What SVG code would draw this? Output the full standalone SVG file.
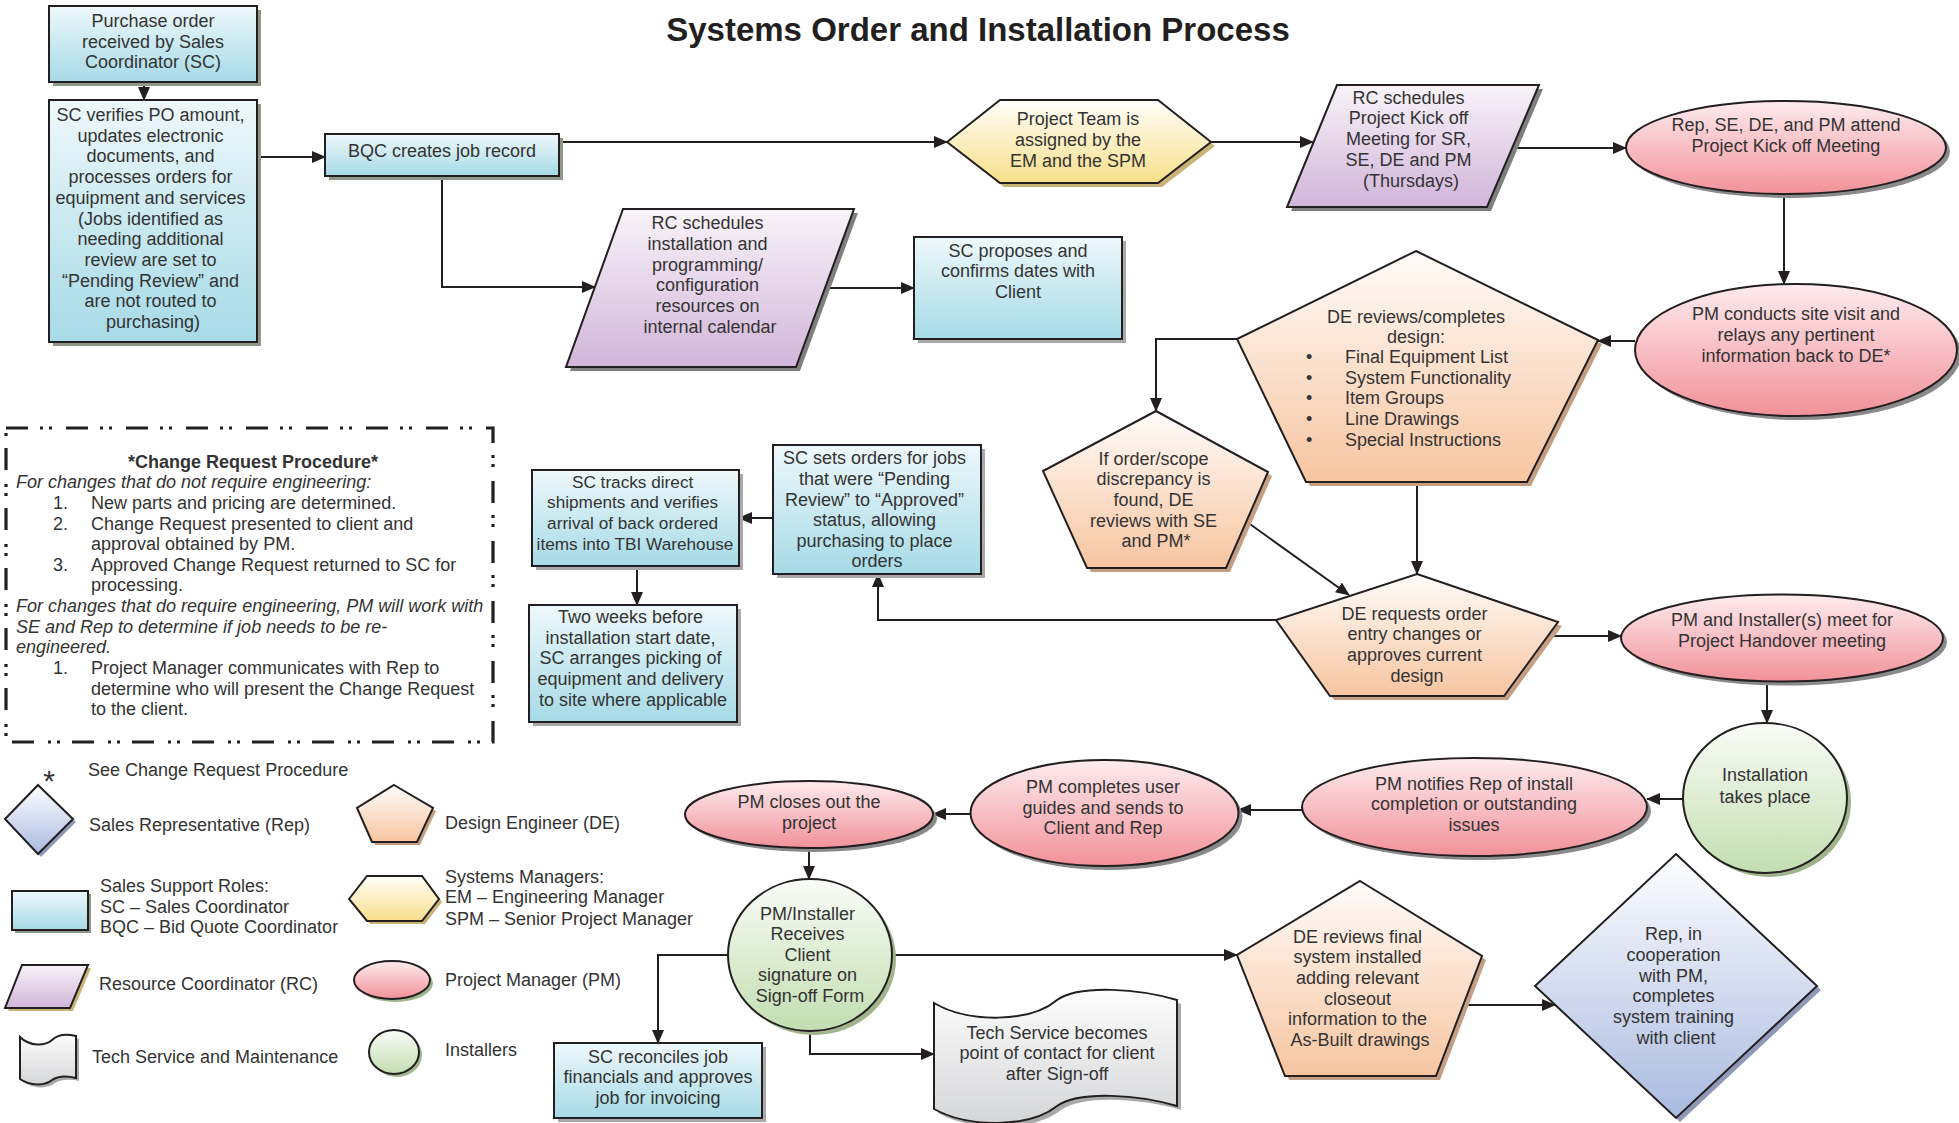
<svg xmlns="http://www.w3.org/2000/svg" width="1959" height="1123" viewBox="0 0 1959 1123">
<style>
  .t { font-family: "Liberation Sans", Arial, sans-serif; font-size: 18px; fill: #333; text-anchor: middle; }
  .l { font-family: "Liberation Sans", Arial, sans-serif; font-size: 18px; fill: #333; }
  .it { font-style: italic; }
  .title { font-family: "Liberation Sans", Arial, sans-serif; font-size: 33px; font-weight: bold; fill: #231f20; text-anchor: middle; }
  .shape { stroke: #231f20; stroke-width: 2; stroke-linejoin: miter; }
  .f-blue { fill: url(#gBlue); } .sh-blue { fill: #8e9888; }
  .f-purple { fill: url(#gPurple); } .sh-purple { fill: #7f7f7f; }
  .f-yellow { fill: url(#gYellow); } .sh-yellow { fill: #c9b276; }
  .f-orange { fill: url(#gOrange); } .sh-orange { fill: #c49f84; }
  .f-pink { fill: url(#gPink); } .sh-pink { fill: #8a8a8a; }
  .f-green { fill: url(#gGreen); } .sh-green { fill: #9fb48b; }
  .f-dia { fill: url(#gDia); } .sh-dia { fill: #8e99b8; }
  .f-gray { fill: url(#gGray); } .sh-gray { fill: #a9a9a9; }
  .conn { fill: none; stroke: #231f20; stroke-width: 2; marker-end: url(#arrow); }
</style>
<defs>
  <linearGradient id="gBlue" x1="0" y1="0" x2="0" y2="1"><stop offset="0" stop-color="#eef8fb"/><stop offset="1" stop-color="#a6dae6"/></linearGradient>
  <linearGradient id="gPurple" x1="0" y1="0" x2="0" y2="1"><stop offset="0" stop-color="#f8f3f9"/><stop offset="1" stop-color="#d1b5d9"/></linearGradient>
  <linearGradient id="gYellow" x1="0" y1="0" x2="0" y2="1"><stop offset="0" stop-color="#fffefa"/><stop offset="1" stop-color="#f8df8a"/></linearGradient>
  <linearGradient id="gOrange" x1="0" y1="0" x2="0" y2="1"><stop offset="0" stop-color="#fffcfa"/><stop offset="1" stop-color="#f7c5a0"/></linearGradient>
  <linearGradient id="gPink" x1="0" y1="0" x2="0" y2="1"><stop offset="0" stop-color="#fdecef"/><stop offset="1" stop-color="#f29199"/></linearGradient>
  <linearGradient id="gGreen" x1="0" y1="0" x2="0" y2="1"><stop offset="0" stop-color="#fafcf8"/><stop offset="1" stop-color="#c2deb0"/></linearGradient>
  <linearGradient id="gDia" x1="0" y1="0" x2="0" y2="1"><stop offset="0" stop-color="#fefeff"/><stop offset="1" stop-color="#a9bae0"/></linearGradient>
  <linearGradient id="gGray" x1="0" y1="0" x2="0" y2="1"><stop offset="0" stop-color="#fdfdfd"/><stop offset="1" stop-color="#d5d6d8"/></linearGradient>
  <marker id="arrow" markerUnits="userSpaceOnUse" markerWidth="14" markerHeight="12" refX="13" refY="6" orient="auto">
    <path d="M0,0 L14,6 L0,12 z" fill="#231f20"/>
  </marker>

  <!-- node outlines -->
  <rect id="s-po" x="49" y="6" width="208" height="76"/>
  <rect id="s-verify" x="49" y="100" width="208" height="242"/>
  <rect id="s-bqc" x="325" y="134" width="234" height="42"/>
  <polygon id="s-rcinst" points="623,209 854,209 796,367 566,367"/>
  <rect id="s-propose" x="914" y="237" width="208" height="102"/>
  <polygon id="s-team" points="947,142 1000,100 1158,100 1211,142 1158,183 1000,183"/>
  <polygon id="s-rckick" points="1337,85 1539,85 1487,207 1287,207"/>
  <ellipse id="s-kickoff" cx="1786" cy="147.5" rx="160" ry="46.5"/>
  <ellipse id="s-site" cx="1796" cy="350" rx="161" ry="66"/>
  <polygon id="s-design" points="1416,251 1598,340 1527,482 1306,482 1237,339"/>
  <polygon id="s-discr" points="1156,411 1268,472 1226,568 1087,568 1043,471"/>
  <polygon id="s-dereq" points="1417,574 1558,622 1504,696 1330,696 1276,620"/>
  <ellipse id="s-handover" cx="1782" cy="638" rx="161" ry="43.5"/>
  <ellipse id="s-install" cx="1765" cy="798" rx="82" ry="75"/>
  <ellipse id="s-notify" cx="1474.5" cy="807" rx="172.5" ry="49"/>
  <ellipse id="s-guides" cx="1104.5" cy="813" rx="134" ry="53"/>
  <ellipse id="s-close" cx="809" cy="814.5" rx="124" ry="33.5"/>
  <ellipse id="s-signoff" cx="810" cy="955" rx="82" ry="76"/>
  <rect id="s-reconcile" x="554" y="1043" width="208" height="75"/>
  <path id="s-tech" d="M934,1003 C968,1023 1030,1023 1057,1000 C1080,984 1140,989 1177,1000 L1177,1106 C1140,1095 1080,1090 1057,1106 C1030,1128 968,1128 934,1109 Z"/>
  <polygon id="s-asbuilt" points="1360,881 1482,956 1436,1076 1285,1076 1237,955"/>
  <polygon id="s-train" points="1676,854 1817,986 1676,1118 1535,986"/>
  <rect id="s-sets" x="773" y="445" width="208" height="129"/>
  <rect id="s-tracks" x="532" y="470" width="207" height="96"/>
  <rect id="s-twoweeks" x="529" y="605" width="208" height="117"/>

  <!-- legend symbols -->
  <polygon id="k-dia" points="38,785 73,819 38,854 5,819"/>
  <rect id="k-rect" x="12" y="891" width="76" height="39"/>
  <polygon id="k-para" points="22,965 88,965 70,1008 5,1008"/>
  <path id="k-tape" d="M20,1037 C30,1047 45,1046 52,1040 C58,1034 68,1034 76,1036 L76,1078 C68,1076 58,1076 52,1080 C45,1086 30,1086 20,1079 Z"/>
  <polygon id="k-pent" points="394,785 433,808 417,842 372,842 357,808"/>
  <polygon id="k-hex" points="349,899 367,876 422,876 439,899 422,921 367,921"/>
  <ellipse id="k-ell" cx="392" cy="980" rx="38" ry="19"/>
  <ellipse id="k-circ" cx="394" cy="1052" rx="25" ry="22"/>
</defs>

<rect x="0" y="0" width="1959" height="1123" fill="#ffffff"/>

<text class="title" x="978" y="41">Systems Order and Installation Process</text>

<!-- connectors -->
<g id="connectors">
  <path class="conn" d="M144,82 V100"/>
  <path class="conn" d="M257,157 H325"/>
  <path class="conn" d="M559,142 H947"/>
  <path class="conn" d="M442,176 V287 H595"/>
  <path class="conn" d="M825,288 H914"/>
  <path class="conn" d="M1211,142 H1313"/>
  <path class="conn" d="M1512,148 H1626"/>
  <path class="conn" d="M1784,194 V284"/>
  <path class="conn" d="M1635,341 H1598"/>
  <path class="conn" d="M1237,339 H1156 V411"/>
  <path class="conn" d="M1247,522 L1349,595"/>
  <path class="conn" d="M1417,482 V574"/>
  <path class="conn" d="M1276,620 H878 V574"/>
  <path class="conn" d="M1549,636 H1621"/>
  <path class="conn" d="M1767,682 V723"/>
  <path class="conn" d="M1683,799 H1647"/>
  <path class="conn" d="M1302,810 H1238"/>
  <path class="conn" d="M971,814 H933"/>
  <path class="conn" d="M809,848 V879"/>
  <path class="conn" d="M728,955 H658 V1043"/>
  <path class="conn" d="M892,955 H1237"/>
  <path class="conn" d="M810,1031 V1054 H934"/>
  <path class="conn" d="M1463,1005 H1555"/>
  <path class="conn" d="M773,518 H739"/>
  <path class="conn" d="M637,566 V605"/>
</g>

<!-- process nodes -->
<g id="n-po">
  <use href="#s-po" class="sh-blue" transform="translate(4,4)"/>
  <use href="#s-po" class="shape f-blue"/>
  <text class="t"><tspan x="153" y="27">Purchase order</tspan><tspan x="153" y="48">received by Sales</tspan><tspan x="153" y="68">Coordinator (SC)</tspan></text>
</g>
<g id="n-verify">
  <use href="#s-verify" class="sh-blue" transform="translate(4,4)"/>
  <use href="#s-verify" class="shape f-blue"/>
  <text class="t">
    <tspan x="153" y="121">SC verifies PO amount,</tspan>
    <tspan x="153" y="141.7">updates electronic</tspan>
    <tspan x="153" y="162.4">documents, and</tspan>
    <tspan x="153" y="183.1">processes orders for</tspan>
    <tspan x="153" y="203.8">equipment and services</tspan>
    <tspan x="153" y="224.5">(Jobs identified as</tspan>
    <tspan x="153" y="245.2">needing additional</tspan>
    <tspan x="153" y="265.9">review are set to</tspan>
    <tspan x="153" y="286.6">“Pending Review” and</tspan>
    <tspan x="153" y="307.3">are not routed to</tspan>
    <tspan x="153" y="328">purchasing)</tspan>
  </text>
</g>
<g id="n-bqc">
  <use href="#s-bqc" class="sh-blue" transform="translate(4,4)"/>
  <use href="#s-bqc" class="shape f-blue"/>
  <text class="t" x="442" y="157">BQC creates job record</text>
</g>
<g id="n-rc-install">
  <use href="#s-rcinst" class="sh-purple" transform="translate(4,4)"/>
  <use href="#s-rcinst" class="shape f-purple"/>
  <text class="t">
    <tspan x="710" y="229">RC schedules</tspan>
    <tspan x="710" y="250">installation and</tspan>
    <tspan x="710" y="271">programming/</tspan>
    <tspan x="710" y="291">configuration</tspan>
    <tspan x="710" y="312">resources on</tspan>
    <tspan x="710" y="333">internal calendar</tspan>
  </text>
</g>
<g id="n-propose">
  <use href="#s-propose" class="sh-gray" transform="translate(4,4)"/>
  <use href="#s-propose" class="shape f-blue"/>
  <text class="t"><tspan x="1018" y="257">SC proposes and</tspan><tspan x="1018" y="277">confirms dates with</tspan><tspan x="1018" y="298">Client</tspan></text>
</g>
<g id="n-team">
  <use href="#s-team" class="sh-yellow" transform="translate(4,4)"/>
  <use href="#s-team" class="shape f-yellow"/>
  <text class="t"><tspan x="1078" y="125">Project Team is</tspan><tspan x="1078" y="146">assigned by the</tspan><tspan x="1078" y="167">EM and the SPM</tspan></text>
</g>
<g id="n-rc-kickoff">
  <use href="#s-rckick" class="sh-purple" transform="translate(4,4)"/>
  <use href="#s-rckick" class="shape f-purple"/>
  <text class="t">
    <tspan x="1411" y="104">RC schedules</tspan>
    <tspan x="1411" y="124">Project Kick off</tspan>
    <tspan x="1411" y="145">Meeting for SR,</tspan>
    <tspan x="1411" y="166">SE, DE and PM</tspan>
    <tspan x="1411" y="187">(Thursdays)</tspan>
  </text>
</g>
<g id="n-kickoff">
  <use href="#s-kickoff" class="sh-pink" transform="translate(4,4)"/>
  <use href="#s-kickoff" class="shape f-pink"/>
  <text class="t"><tspan x="1786" y="131">Rep, SE, DE, and PM attend</tspan><tspan x="1786" y="152">Project Kick off Meeting</tspan></text>
</g>
<g id="n-site">
  <use href="#s-site" class="sh-pink" transform="translate(4,4)"/>
  <use href="#s-site" class="shape f-pink"/>
  <text class="t"><tspan x="1796" y="320">PM conducts site visit and</tspan><tspan x="1796" y="341">relays any pertinent</tspan><tspan x="1796" y="362">information back to DE*</tspan></text>
</g>
<g id="n-design">
  <use href="#s-design" class="sh-orange" transform="translate(4,4)"/>
  <use href="#s-design" class="shape f-orange"/>
  <text class="t"><tspan x="1416" y="323">DE reviews/completes</tspan><tspan x="1416" y="343">design:</tspan></text>
  <text class="l">
    <tspan x="1306" y="363">•</tspan><tspan x="1345" y="363">Final Equipment List</tspan>
    <tspan x="1306" y="384">•</tspan><tspan x="1345" y="384">System Functionality</tspan>
    <tspan x="1306" y="404">•</tspan><tspan x="1345" y="404">Item Groups</tspan>
    <tspan x="1306" y="425">•</tspan><tspan x="1345" y="425">Line Drawings</tspan>
    <tspan x="1306" y="446">•</tspan><tspan x="1345" y="446">Special Instructions</tspan>
  </text>
</g>
<g id="n-discrepancy">
  <use href="#s-discr" class="sh-orange" transform="translate(4,4)"/>
  <use href="#s-discr" class="shape f-orange"/>
  <text class="t">
    <tspan x="1156" y="465">If order/scope</tspan>
    <tspan x="1156" y="485">discrepancy is</tspan>
    <tspan x="1156" y="506">found, DE</tspan>
    <tspan x="1156" y="527">reviews with SE</tspan>
    <tspan x="1156" y="547">and PM*</tspan>
  </text>
</g>
<g id="n-de-request">
  <use href="#s-dereq" class="sh-orange" transform="translate(4,4)"/>
  <use href="#s-dereq" class="shape f-orange"/>
  <text class="t">
    <tspan x="1417" y="620">DE requests order</tspan>
    <tspan x="1417" y="640">entry changes or</tspan>
    <tspan x="1417" y="661">approves current</tspan>
    <tspan x="1417" y="682">design</tspan>
  </text>
</g>
<g id="n-handover">
  <use href="#s-handover" class="sh-pink" transform="translate(4,4)"/>
  <use href="#s-handover" class="shape f-pink"/>
  <text class="t"><tspan x="1782" y="626">PM and Installer(s) meet for</tspan><tspan x="1782" y="647">Project Handover meeting</tspan></text>
</g>
<g id="n-install">
  <use href="#s-install" class="sh-green" transform="translate(4,4)"/>
  <use href="#s-install" class="shape f-green"/>
  <text class="t"><tspan x="1765" y="781">Installation</tspan><tspan x="1765" y="803">takes place</tspan></text>
</g>
<g id="n-notify">
  <use href="#s-notify" class="sh-pink" transform="translate(4,4)"/>
  <use href="#s-notify" class="shape f-pink"/>
  <text class="t"><tspan x="1474" y="790">PM notifies Rep of install</tspan><tspan x="1474" y="810">completion or outstanding</tspan><tspan x="1474" y="831">issues</tspan></text>
</g>
<g id="n-guides">
  <use href="#s-guides" class="sh-pink" transform="translate(4,4)"/>
  <use href="#s-guides" class="shape f-pink"/>
  <text class="t"><tspan x="1103" y="793">PM completes user</tspan><tspan x="1103" y="814">guides and sends to</tspan><tspan x="1103" y="834">Client and Rep</tspan></text>
</g>
<g id="n-closeout">
  <use href="#s-close" class="sh-pink" transform="translate(4,4)"/>
  <use href="#s-close" class="shape f-pink"/>
  <text class="t"><tspan x="809" y="808">PM closes out the</tspan><tspan x="809" y="829">project</tspan></text>
</g>
<g id="n-signoff">
  <use href="#s-signoff" class="sh-green" transform="translate(4,4)"/>
  <use href="#s-signoff" class="shape f-green"/>
  <text class="t">
    <tspan x="810" y="920">PM/Installer</tspan>
    <tspan x="810" y="940">Receives</tspan>
    <tspan x="810" y="961">Client</tspan>
    <tspan x="810" y="981">signature on</tspan>
    <tspan x="810" y="1002">Sign-off Form</tspan>
  </text>
</g>
<g id="n-reconcile">
  <use href="#s-reconcile" class="sh-gray" transform="translate(4,4)"/>
  <use href="#s-reconcile" class="shape f-blue"/>
  <text class="t"><tspan x="658" y="1063">SC reconciles job</tspan><tspan x="658" y="1083">financials and approves</tspan><tspan x="658" y="1104">job for invoicing</tspan></text>
</g>
<g id="n-tech">
  <use href="#s-tech" class="sh-gray" transform="translate(4,4)"/>
  <use href="#s-tech" class="shape f-gray"/>
  <text class="t"><tspan x="1057" y="1039">Tech Service becomes</tspan><tspan x="1057" y="1059">point of contact for client</tspan><tspan x="1057" y="1080">after Sign-off</tspan></text>
</g>
<g id="n-asbuilt">
  <use href="#s-asbuilt" class="sh-orange" transform="translate(4,4)"/>
  <use href="#s-asbuilt" class="shape f-orange"/>
  <text class="t">
    <tspan x="1360" y="943">DE reviews final</tspan>
    <tspan x="1360" y="963">system installed</tspan>
    <tspan x="1360" y="984">adding relevant</tspan>
    <tspan x="1360" y="1005">closeout</tspan>
    <tspan x="1360" y="1025">information to the</tspan>
    <tspan x="1360" y="1046">As-Built drawings</tspan>
  </text>
</g>
<g id="n-training">
  <use href="#s-train" class="sh-dia" transform="translate(4,4)"/>
  <use href="#s-train" class="shape f-dia"/>
  <text class="t">
    <tspan x="1676" y="940">Rep, in</tspan>
    <tspan x="1676" y="961">cooperation</tspan>
    <tspan x="1676" y="982">with PM,</tspan>
    <tspan x="1676" y="1002">completes</tspan>
    <tspan x="1676" y="1023">system training</tspan>
    <tspan x="1676" y="1044">with client</tspan>
  </text>
</g>
<g id="n-sets">
  <use href="#s-sets" class="sh-gray" transform="translate(4,4)"/>
  <use href="#s-sets" class="shape f-blue"/>
  <text class="t">
    <tspan x="877" y="464">SC sets orders for jobs</tspan>
    <tspan x="877" y="485">that were “Pending</tspan>
    <tspan x="877" y="506">Review” to “Approved”</tspan>
    <tspan x="877" y="526">status, allowing</tspan>
    <tspan x="877" y="547">purchasing to place</tspan>
    <tspan x="877" y="567">orders</tspan>
  </text>
</g>
<g id="n-tracks">
  <use href="#s-tracks" class="sh-gray" transform="translate(4,4)"/>
  <use href="#s-tracks" class="shape f-blue"/>
  <text class="t" style="font-size:17.2px">
    <tspan x="635" y="488">SC tracks direct</tspan>
    <tspan x="635" y="508">shipments and verifies</tspan>
    <tspan x="635" y="529">arrival of back ordered</tspan>
    <tspan x="635" y="550">items into TBI Warehouse</tspan>
  </text>
</g>
<g id="n-twoweeks">
  <use href="#s-twoweeks" class="sh-gray" transform="translate(4,4)"/>
  <use href="#s-twoweeks" class="shape f-blue"/>
  <text class="t">
    <tspan x="633" y="623">Two weeks before</tspan>
    <tspan x="633" y="644">installation start date,</tspan>
    <tspan x="633" y="664">SC arranges picking of</tspan>
    <tspan x="633" y="685">equipment and delivery</tspan>
    <tspan x="633" y="706">to site where applicable</tspan>
  </text>
</g>

<!-- change request procedure note -->
<g id="change-request">
  <rect x="6" y="428" width="487" height="314" fill="none" stroke="#231f20" stroke-width="3.2" stroke-dasharray="22 12 3 6 3 14"/>
  <text class="t" x="253" y="468" style="font-weight:bold">*Change Request Procedure*</text>
  <text class="l">
    <tspan class="it" x="16" y="488">For changes that do not require engineering:</tspan>
    <tspan x="53" y="509">1.</tspan><tspan x="91" y="509">New parts and pricing are determined.</tspan>
    <tspan x="53" y="530">2.</tspan><tspan x="91" y="530">Change Request presented to client and</tspan>
    <tspan x="91" y="550">approval obtained by PM.</tspan>
    <tspan x="53" y="571">3.</tspan><tspan x="91" y="571">Approved Change Request returned to SC for</tspan>
    <tspan x="91" y="591">processing.</tspan>
    <tspan class="it" x="16" y="612">For changes that do require engineering, PM will work with</tspan>
    <tspan class="it" x="16" y="633">SE and Rep to determine if job needs to be re-</tspan>
    <tspan class="it" x="16" y="653">engineered.</tspan>
    <tspan x="53" y="674">1.</tspan><tspan x="91" y="674">Project Manager communicates with Rep to</tspan>
    <tspan x="91" y="695">determine who will present the Change Request</tspan>
    <tspan x="91" y="715">to the client.</tspan>
  </text>
</g>

<!-- legend -->
<g id="legend">
  <text class="t" x="49" y="791" style="font-size:30px">*</text>
  <text class="l" x="88" y="776">See Change Request Procedure</text>

  <use href="#k-dia" class="sh-dia" transform="translate(3,3)"/>
  <use href="#k-dia" class="shape f-dia"/>
  <text class="l" x="89" y="831">Sales Representative (Rep)</text>

  <use href="#k-rect" class="sh-blue" transform="translate(3,3)"/>
  <use href="#k-rect" class="shape f-blue"/>
  <text class="l"><tspan x="100" y="892">Sales Support Roles:</tspan><tspan x="100" y="913">SC – Sales Coordinator</tspan><tspan x="100" y="933">BQC – Bid Quote Coordinator</tspan></text>

  <use href="#k-para" class="sh-yellow" transform="translate(3,3)"/>
  <use href="#k-para" class="shape f-purple"/>
  <text class="l" x="99" y="990">Resource Coordinator (RC)</text>

  <use href="#k-tape" class="sh-gray" transform="translate(3,3)"/>
  <use href="#k-tape" class="shape f-gray"/>
  <text class="l" x="92" y="1063">Tech Service and Maintenance</text>

  <use href="#k-pent" class="sh-orange" transform="translate(3,3)"/>
  <use href="#k-pent" class="shape f-orange"/>
  <text class="l" x="445" y="829">Design Engineer (DE)</text>

  <use href="#k-hex" class="sh-yellow" transform="translate(3,3)"/>
  <use href="#k-hex" class="shape f-yellow"/>
  <text class="l"><tspan x="445" y="883">Systems Managers:</tspan><tspan x="445" y="903">EM – Engineering Manager</tspan><tspan x="445" y="925">SPM – Senior Project Manager</tspan></text>

  <use href="#k-ell" class="sh-green" transform="translate(3,3)"/>
  <use href="#k-ell" class="shape f-pink"/>
  <text class="l" x="445" y="986">Project Manager (PM)</text>

  <use href="#k-circ" class="sh-green" transform="translate(3,3)"/>
  <use href="#k-circ" class="shape f-green"/>
  <text class="l" x="445" y="1056">Installers</text>
</g>
</svg>
